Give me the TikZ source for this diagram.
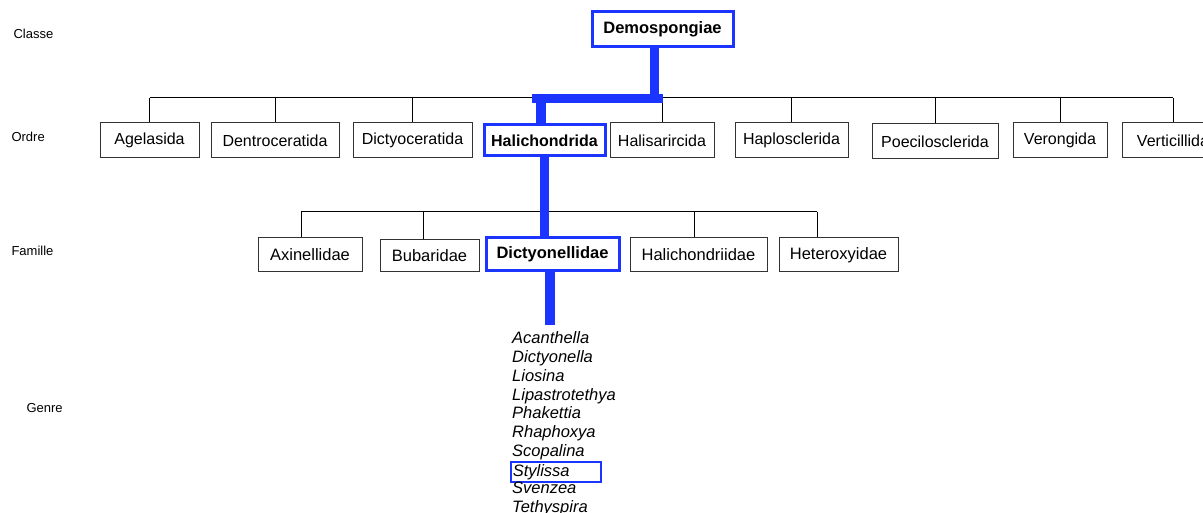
\documentclass[tikz,border=0pt]{standalone}
\usepackage{fontspec}
\setmainfont{Liberation Sans}
\definecolor{hblue}{RGB}{28,52,255}
\begin{document}
\begin{tikzpicture}[x=1pt,y=-1pt,
  box/.style={draw=black!80,line width=1pt,inner sep=0pt,font=\fontsize{16}{18}\selectfont,fill=white},
  fbox/.style={box,font=\fontsize{16.5}{18}\selectfont},
  hbox/.style={draw=hblue,line width=3pt,inner sep=0pt,fill=white},
  lab/.style={anchor=west,font=\fontsize{13}{15}\selectfont},
  gen/.style={anchor=base west,inner sep=0pt,font=\fontsize{16.5}{18}\selectfont\itshape},
  thin/.style={draw=black,line width=1pt},
  thick/.style={draw=hblue,line width=9.5pt}]
\useasboundingbox (0,0) rectangle (1203,513);
\clip (0,0) rectangle (1203,513);
% level labels
\node[lab] (lc) at (10,34) {Classe};
\node[lab] (lo) at (8,137) {Ordre};
\node[lab] (lf) at (8,251) {Famille};
\node[lab] (lg) at (23,408) {Genre};
% class
\node[hbox,minimum width=141,minimum height=35,font=\fontsize{16.5}{18}\selectfont\bfseries] (demo) at (662.5,29.5) {Demospongiae};
% orders
\node[box,minimum width=99,minimum height=35] (agel) at (149.5,140.5) {Agelasida};
\node[box,minimum width=128,minimum height=35] (dent) at (275,140.5) {Dentroceratida};
\node[box,minimum width=119,minimum height=35] (dicty) at (412.5,140.5) {Dictyoceratida};
\node[hbox,minimum width=121,minimum height=31,font=\fontsize{16}{18}\selectfont\bfseries] (hali) at (544.5,140.5) {Halichondrida};
\node[box,minimum width=104,minimum height=35] (halis) at (662,140.5) {Halisarircida};
\node[box,minimum width=113,minimum height=35] (haplo) at (791.5,140.5) {Haplosclerida};
\node[box,minimum width=126,minimum height=35] (poec) at (935,141.5) {Poecilosclerida};
\node[box,minimum width=94,minimum height=35] (veron) at (1060,140.5) {Verongida};
\node[box,minimum width=102,minimum height=35] (verti) at (1173,140.5) {Verticillida};
% families
\node[fbox,minimum width=104,minimum height=34] (axin) at (310,255) {Axinellidae};
\node[fbox,minimum width=99,minimum height=32] (bub) at (429.5,256) {Bubaridae};
\node[hbox,minimum width=133,minimum height=33,font=\fontsize{16.5}{18}\selectfont\bfseries] (dict) at (552.5,254.5) {Dictyonellidae};
\node[fbox,minimum width=137,minimum height=34] (halid) at (698.5,255) {Halichondriidae};
\node[fbox,minimum width=119,minimum height=34] (hetero) at (838.5,255) {Heteroxyidae};
% genera
\node[gen] (g1) at (512,344) {Acanthella};
\node[gen] (g2) at (512,362.7) {Dictyonella};
\node[gen] (g3) at (512,381.4) {Liosina};
\node[gen] (g4) at (512,400.1) {Lipastrotethya};
\node[gen] (g5) at (512,418.8) {Phakettia};
\node[gen] (g6) at (512,437.5) {Rhaphoxya};
\node[gen] (g7) at (512,456.2) {Scopalina};
\node[draw=hblue,line width=1.5pt,anchor=west,minimum width=90,minimum height=20,inner xsep=2pt,inner ysep=0pt,text width=86pt,align=left,font=\fontsize{16.5}{18}\selectfont\itshape] (g8) at (510,472) {Stylissa};
\node[gen] (g9) at (512,493.6) {Svenzea};
\node[gen] (g10) at (512,512.3) {Tethyspira};
% bus coordinates
\coordinate (busO) at (0,98);
\coordinate (busF) at (0,212);
\coordinate (gtop) at (550,325);
% order connectors
\draw[thin] (agel.north |- busO) -- (verti.north |- busO);
\foreach \n in {agel,dent,dicty,halis,haplo,poec,veron,verti}
  \draw[thin] (\n.north) -- (\n.north |- busO);
% family connectors
\draw[thin] ([xshift=-9pt]axin.north |- busF) -- ([xshift=-21.5pt]hetero.north |- busF);
\draw[thin] ([xshift=-9pt]axin.north) -- ([xshift=-9pt]axin.north |- busF);
\draw[thin] ([xshift=-6.5pt]bub.north) -- ([xshift=-6.5pt]bub.north |- busF);
\draw[thin] ([xshift=-4.5pt]halid.north) -- ([xshift=-4.5pt]halid.north |- busF);
\draw[thin] ([xshift=-21.5pt]hetero.north) -- ([xshift=-21.5pt]hetero.north |- busF);
% highlighted path
\draw[thick] ([xshift=-8pt]demo.south) -- ([xshift=-8pt,yshift=-0.5pt]demo.south |- busO);
\draw[thick] ([xshift=-12.5pt,yshift=-0.5pt]hali.north |- busO) -- ([xshift=0.5pt,yshift=-0.5pt]demo.south |- busO);
\draw[thick] ([xshift=-3.5pt,yshift=-0.5pt]hali.north |- busO) -- ([xshift=-3.5pt]hali.north);
\draw[thick] (hali.south) -- (hali.south |- dict.north);
\draw[thick] ([xshift=-2.5pt]dict.south) -- (gtop);
\end{tikzpicture}
\end{document}
